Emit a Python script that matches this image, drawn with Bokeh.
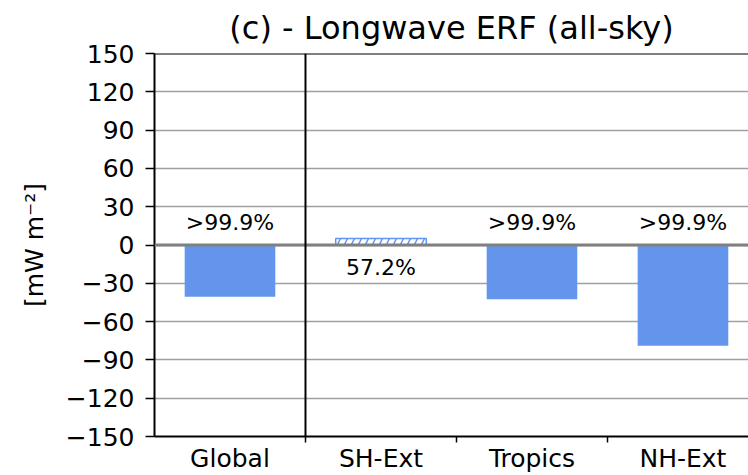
from bokeh.plotting import figure
from bokeh.models import Range1d, FixedTicker, ColumnDataSource, Span
from bokeh.core.properties import value
from bokeh.embed import file_html
from bokeh.resources import INLINE

# ---- data ----
regions = ["Global", "SH-Ext", "Tropics", "NH-Ext"]
erf = [-40.5, 5.0, -42.5, -79.0]
sig_labels = [">99.9%", "57.2%", ">99.9%", ">99.9%"]
hatched = [False, True, False, False]
y_ticks = [-150, -120, -90, -60, -30, 0, 30, 60, 90, 120, 150]

FONT = "DejaVu Sans"
BLUE = "#6495ED"

xs = list(range(len(regions)))
lab_off = 18
lab_y = [lab_off if v < 0 else -lab_off for v in erf]

p = figure(width=748, height=475, output_backend="svg", toolbar_location=None,
           x_range=Range1d(-0.5, 3.434), y_range=Range1d(-150, 150),
           min_border_left=154, min_border_right=0, min_border_top=52,
           min_border_bottom=36)
p.outline_line_color = None
p.background_fill_color = "white"
p.border_fill_color = "white"

p.title.text = "(c) - Longwave ERF (all-sky)"
p.title.align = "center"
p.title.text_font = FONT
p.title.text_font_size = "32px"
p.title.text_font_style = "normal"
p.title.text_color = "black"
p.title.standoff = 13

# grid
p.xgrid.grid_line_color = None
p.ygrid.ticker = FixedTicker(ticks=y_ticks)
p.ygrid.grid_line_color = "#a0a0a0"
p.ygrid.grid_line_width = 1.5

# y axis
p.yaxis.ticker = FixedTicker(ticks=y_ticks, minor_ticks=[])
p.yaxis.major_label_overrides = {t: str(t).replace("-", "\u2212") for t in y_ticks}
p.yaxis.major_label_text_font = FONT
p.yaxis.major_label_text_font_size = "25px"
p.yaxis.major_label_text_color = "black"
p.yaxis.major_tick_out = 9
p.yaxis.major_tick_in = 0
p.yaxis.major_tick_line_width = 1.5
p.yaxis.major_label_standoff = 11
p.yaxis.axis_line_width = 2
p.yaxis.axis_line_color = "black"
p.yaxis.axis_label = "[mW m\u207b\u00b2]"
p.yaxis.axis_label_text_font = FONT
p.yaxis.axis_label_text_font_size = "25px"
p.yaxis.axis_label_text_font_style = "normal"
p.yaxis.axis_label_text_color = "black"
p.yaxis.axis_label_standoff = 14

# x axis: labels at categories, tick marks at boundaries
p.xaxis.ticker = FixedTicker(ticks=xs, minor_ticks=[0.5, 1.5, 2.5])
p.xaxis.major_label_overrides = {i: r for i, r in zip(xs, regions)}
p.xaxis.major_label_text_font = FONT
p.xaxis.major_label_text_font_size = "25px"
p.xaxis.major_label_text_color = "black"
p.xaxis.major_label_text_line_height = 0.92
p.xaxis.axis_label = None
p.xaxis.major_tick_out = 0
p.xaxis.major_tick_in = 0
p.xaxis.minor_tick_out = 6
p.xaxis.minor_tick_in = 0
p.xaxis.minor_tick_line_color = "black"
p.xaxis.minor_tick_line_width = 1.5
p.xaxis.major_label_standoff = 1
p.xaxis.axis_line_width = 2
p.xaxis.axis_line_color = "black"

# bars
solid = ColumnDataSource(dict(x=[x for x, h in zip(xs, hatched) if not h],
                              top=[v for v, h in zip(erf, hatched) if not h]))
hat = ColumnDataSource(dict(x=[x for x, h in zip(xs, hatched) if h],
                            top=[v for v, h in zip(erf, hatched) if h]))
p.vbar(x="x", top="top", bottom=0, width=0.6, source=solid,
       fill_color=BLUE, line_color=None)
p.vbar(x="x", top="top", bottom=0, width=0.6, source=hat,
       fill_color="white", line_color=BLUE, line_width=1.5,
       hatch_pattern="/", hatch_color=BLUE, hatch_scale=14, hatch_weight=1.5)

# zero line and separator
p.add_layout(Span(location=0, dimension="width", line_color="#808080", line_width=3))
p.add_layout(Span(location=0.5, dimension="height", line_color="black", line_width=2))
p.add_layout(Span(location=150, dimension="width", line_color="black", line_width=2))

# significance labels
p.text(x=xs, y=lab_y, text=sig_labels, text_font=value(FONT), text_font_size="22px",
       text_align="center", text_baseline="middle", text_color="black")

open("out.html", "w").write(file_html(p, INLINE))
